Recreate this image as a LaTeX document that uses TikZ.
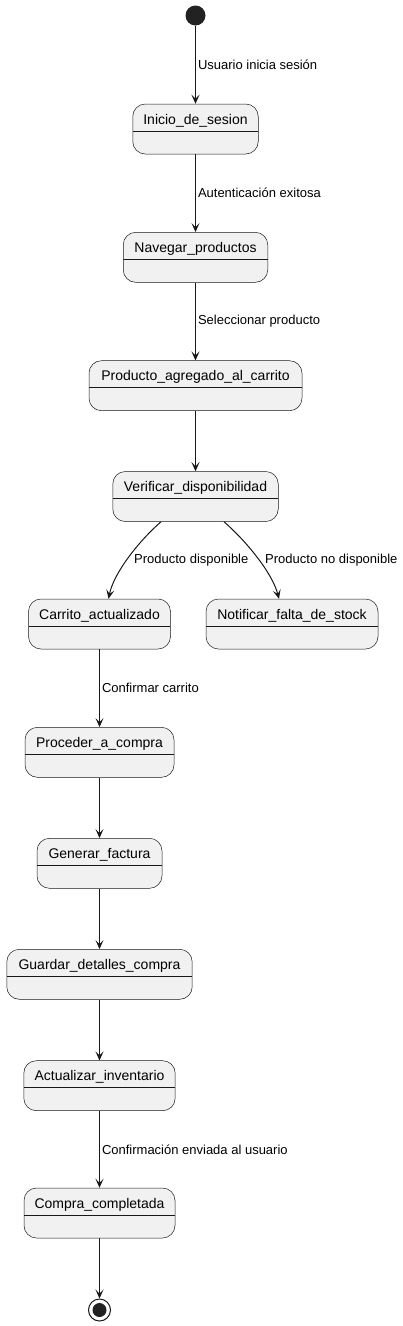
\documentclass[tikz,border=0pt]{standalone}
\usepackage{fontspec}
\setmainfont{Liberation Sans}
\usetikzlibrary{arrows.meta}
\definecolor{statefill}{HTML}{F1F1F1}
\definecolor{linec}{HTML}{181818}
\definecolor{dotc}{HTML}{222222}
\tikzset{
  stbox/.style={draw=linec, fill=statefill, line width=0.5pt, rounded corners=12.5pt,
    inner sep=0pt, text height=20pt, text depth=30pt, minimum width=#1,
    font=\fontsize{14}{16}\selectfont,
    path picture={\draw[line width=0.5pt, draw=linec]
      ([yshift=-27pt]path picture bounding box.north west) --
      ([yshift=-27pt]path picture bounding box.north east);}},
  tr/.style={draw=linec, line width=1pt, -{Stealth[length=9pt,width=8pt,inset=4pt]}},
  lbl/.style={font=\fontsize{13}{15}\selectfont, inner sep=0pt, anchor=west, text=black},
  startdot/.style={circle, fill=dotc, minimum size=20pt, inner sep=0pt},
  enddot/.style={circle, draw=linec, line width=1pt, minimum size=22pt, inner sep=0pt,
    path picture={\fill[dotc] (path picture bounding box.center) circle (7pt);}}
}
\begin{document}
\begin{tikzpicture}[x=1pt,y=-1pt]
\useasboundingbox (0,0) rectangle (403,1326);
\node[startdot] (st) at (195.5,15.5) {};
\node[stbox=125.5pt] (ini) at (195.5,129) {Inicio\_de\_sesion};
\node[stbox=144.5pt] (nav) at (195.5,257.3) {Navegar\_productos};
\node[stbox=213pt] (prod) at (195.5,385.7) {Producto\_agregado\_al\_carrito};
\node[stbox=165.5pt] (ver) at (195.5,496.5) {Verificar\_disponibilidad};
\node[stbox=142pt] (car) at (99.5,624) {Carrito\_actualizado};
\node[stbox=172pt] (notif) at (292,624) {Notificar\_falta\_de\_stock};
\node[stbox=149pt] (pro) at (99.5,752.3) {Proceder\_a\_compra};
\node[stbox=125pt] (gen) at (99.5,863.3) {Generar\_factura};
\node[stbox=185.4pt] (gua) at (99.5,974.3) {Guardar\_detalles\_compra};
\node[stbox=151.4pt] (act) at (99.5,1085.7) {Actualizar\_inventario};
\node[stbox=151pt] (com) at (99.5,1213) {Compra\_completada};
\node[enddot] (fin) at (99.5,1310) {};

\draw[tr] (st) -- node[lbl, xshift=2pt] {Usuario inicia sesión} (ini);
\draw[tr] (ini) -- node[lbl, xshift=2pt] {Autenticación exitosa} (nav);
\draw[tr] (nav) -- node[lbl, xshift=2pt] {Seleccionar producto} (prod);
\draw[tr] (prod) -- (ver);
\coordinate (vl) at ([xshift=-34.5pt]ver.south);
\coordinate (vr) at ([xshift=28.5pt]ver.south);
\coordinate (cl) at ([xshift=9pt]car.north);
\coordinate (nr) at ([xshift=-13pt]notif.north);
\draw[tr] (vl) .. controls (140,540) and (114,572) .. (cl);
\draw[tr] (vr) .. controls (245,540) and (272,572) .. (nr);
\node[lbl] (l1) at (134,560) {Producto disponible};
\node[lbl] (l2) at (265,560) {Producto no disponible};
\draw[tr] (car) -- node[lbl, xshift=2pt] {Confirmar carrito} (pro);
\draw[tr] (pro) -- (gen);
\draw[tr] (gen) -- (gua);
\draw[tr] (gua) -- (act);
\draw[tr] (act) -- node[lbl, xshift=2pt] {Confirmación enviada al usuario} (com);
\draw[tr] (com) -- (fin);
\end{tikzpicture}
\end{document}
